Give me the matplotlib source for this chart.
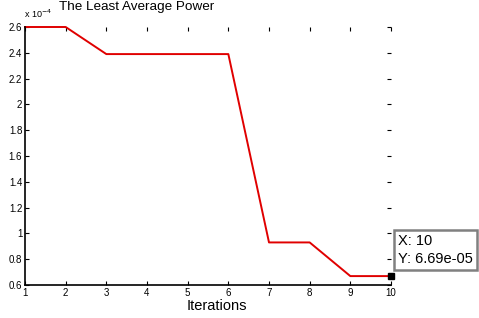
import matplotlib
matplotlib.use('Agg')
import matplotlib.pyplot as plt

plt.rcParams['font.family'] = ['Liberation Sans', 'DejaVu Sans']

# data (power values in units of 1e-4)
iterations = [1, 2, 3, 4, 5, 6, 7, 8, 9, 10]
power = [2.6, 2.6, 2.39, 2.39, 2.39, 2.39, 0.93, 0.93, 0.669, 0.669]
y_ticks = [0.6, 0.8, 1, 1.2, 1.4, 1.6, 1.8, 2, 2.2, 2.4, 2.6]
y_tick_labels = ['0.6', '0.8', '1', '1.2', '1.4', '1.6', '1.8', '2', '2.2', '2.4', '2.6']
tip_x = 10
tip_y = 6.69e-05

fig = plt.figure(figsize=(4.79, 3.18), dpi=100)
ax = fig.add_axes([25 / 479, 33 / 318, 366 / 479, 258 / 318])

ax.plot(iterations, power, color='#e00000', linewidth=1.4, clip_on=False)
# datatip marker
ax.plot([tip_x], [tip_y * 1e4], marker='s', color='black', markersize=4, clip_on=False)

ax.set_xlim(1, 10)
ax.set_ylim(0.6, 2.6)
ax.set_xticks(iterations)
ax.set_yticks(y_ticks)
ax.set_yticklabels(y_tick_labels)
ax.tick_params(direction='in', labelsize=7, length=3, width=0.8,
               top=True, right=True, pad=2)
ax.spines['top'].set_visible(False)
ax.spines['right'].set_visible(False)
ax.spines['left'].set_linewidth(1.2)
ax.spines['bottom'].set_linewidth(1.2)

ax.set_xlabel('Iterations', fontsize=10.5, labelpad=1)
ax.xaxis.label.set_x((217 - 25) / 366)

# exponent label and title
fig.text(24 / 479, 1 - 18 / 318, r'x 10$^{-4}$', fontsize=6.5, va='baseline')
fig.text(137 / 479, 1 - 10 / 318, 'The Least Average Power', fontsize=9.7,
         ha='center', va='baseline')

# data tip box
tip_text = 'X: %d\nY: %.2e' % (tip_x, tip_y)
ax.annotate(tip_text,
            xy=(tip_x, tip_y * 1e4), xycoords='data',
            xytext=(398 / 479, 1 - 250 / 318), textcoords='figure fraction',
            fontsize=10.5, va='center', ha='left', annotation_clip=False,
            linespacing=1.3,
            bbox=dict(boxstyle='square,pad=0.3', fc='white', ec='#808080', lw=1.8))

fig.savefig('out.png', dpi=100)
